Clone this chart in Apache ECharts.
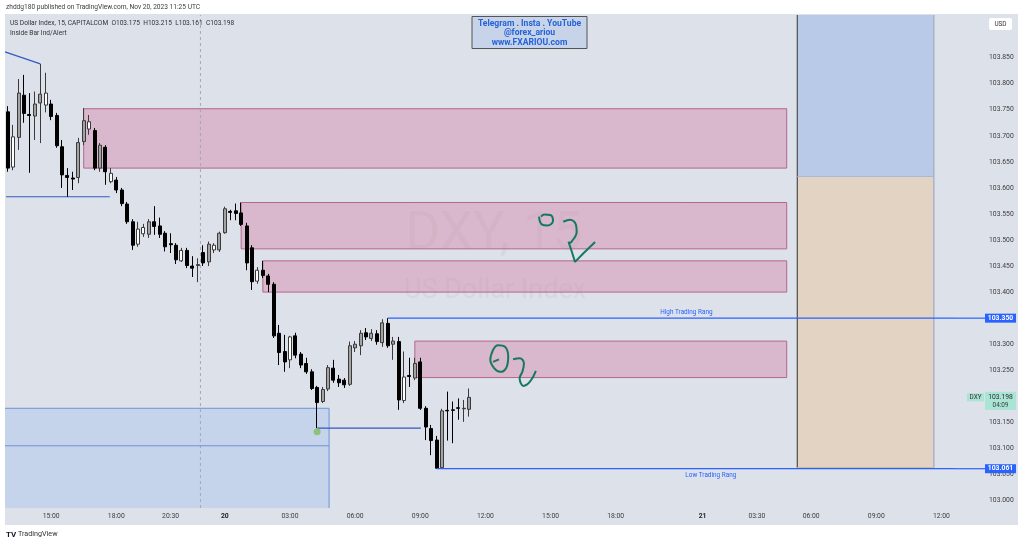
<!DOCTYPE html>
<html><head><meta charset="utf-8">
<script src="https://cdn.jsdelivr.net/npm/echarts@6/dist/echarts.min.js"></script>
<style>html,body{margin:0;padding:0;background:#fff}#c{width:1024px;height:544px}</style>
</head><body><div id="c"></div>
<script>
// ---------------- DATA ----------------
const symbolName = 'US Dollar Index';
const symbolInfo = '15, CAPITALCOM';
const indicatorName = 'Inside Bar Ind/Alert';
const publishLine = 'zhddg180 published on TradingView.com, Nov 20, 2023 11:25 UTC';
const promoLines = ['Telegram . Insta . YouTube', '@forex_ariou', 'www.FXARIOU.com'];
const watermark1 = 'DXY, 15';
const watermark2 = 'US Dollar Index';
const tickerTag = 'DXY';
const countdown = '04:09';
const currency = 'USD';

const slotCount = 175;
const timeLabelIdx = [8, 20, 30, 40, 52, 64, 76, 88, 100, 112, 128, 138, 148, 160, 172];
const timeLabels = ['15:00','18:00','20:30','20','03:00','06:00','09:00','12:00','15:00','18:00','21','03:30','06:00','09:00','12:00'];
const priceLabelMax = 103.85;

const opens = [103.746,103.640,103.697,103.778,103.741,103.738,103.763,103.759,103.761,103.739,
103.679,103.624,103.619,103.620,103.689,103.713,103.710,103.638,103.678,103.628,
103.615,103.596,103.569,103.535,103.492,103.512,103.511,103.535,103.527,103.513,
103.493,103.490,103.460,103.480,103.450,103.451,103.476,103.458,103.481,103.481,
103.514,103.555,103.556,103.552,103.527,103.485,103.421,103.442,103.431,103.415,
103.321,103.286,103.270,103.316,103.281,103.263,103.247,103.217,103.190,103.214,
103.254,103.233,103.231,103.223,103.293,103.297,103.322,103.311,103.320,103.303,
103.340,103.300,103.305,103.192,103.240,103.235,103.266,103.177,103.138,103.116,
103.063,103.173,103.174,103.178,103.176,103.175];
const closes = [103.638,103.698,103.782,103.743,103.739,103.761,103.780,103.782,103.737,103.681,
103.625,103.620,103.617,103.687,103.729,103.727,103.638,103.682,103.631,103.612,
103.596,103.570,103.535,103.490,103.521,103.524,103.535,103.526,103.511,103.487,
103.491,103.462,103.480,103.451,103.446,103.453,103.456,103.492,103.490,103.513,
103.560,103.553,103.551,103.530,103.456,103.420,103.442,103.432,103.415,103.316,
103.284,103.266,103.314,103.279,103.260,103.247,103.215,103.188,103.213,103.255,
103.231,103.226,103.222,103.297,103.300,103.321,103.314,103.321,103.305,103.341,
103.297,103.306,103.193,103.237,103.238,103.263,103.177,103.141,103.115,103.062,
103.172,103.172,103.173,103.177,103.177,103.198];
const lows = [103.631,103.634,103.673,103.725,103.629,103.692,103.686,103.745,103.730,103.677,
103.600,103.583,103.596,103.609,103.682,103.702,103.634,103.631,103.606,103.609,
103.590,103.565,103.531,103.481,103.487,103.506,103.504,103.510,103.504,103.478,
103.475,103.454,103.458,103.446,103.429,103.419,103.450,103.450,103.475,103.477,
103.512,103.538,103.538,103.527,103.442,103.404,103.416,103.427,103.400,103.312,
103.260,103.247,103.254,103.273,103.254,103.243,103.212,103.139,103.187,103.210,
103.226,103.218,103.216,103.220,103.285,103.279,103.308,103.306,103.299,103.295,
103.293,103.270,103.174,103.187,103.218,103.231,103.174,103.116,103.087,103.061,
103.062,103.115,103.110,103.155,103.151,103.161];
const highs = [103.757,103.721,103.809,103.817,103.782,103.785,103.838,103.821,103.769,103.744,
103.692,103.638,103.631,103.696,103.753,103.740,103.715,103.686,103.682,103.638,
103.621,103.600,103.573,103.540,103.535,103.531,103.540,103.565,103.543,103.517,
103.513,103.494,103.485,103.485,103.469,103.465,103.490,103.497,103.494,103.516,
103.564,103.558,103.570,103.572,103.533,103.490,103.448,103.460,103.435,103.419,
103.337,103.318,103.316,103.322,103.285,103.274,103.252,103.220,103.218,103.260,
103.270,103.241,103.235,103.305,103.306,103.327,103.331,103.329,103.327,103.348,
103.350,103.314,103.314,103.286,103.274,103.274,103.274,103.181,103.145,103.124,
103.176,103.209,103.190,103.196,103.193,103.215];
// candles flagged by the "Inside Bar Ind/Alert" indicator
const insideBars = [1, 7, 15, 19, 24, 25, 32, 38, 46, 52, 73];

// drawings (x in candle index units, y in price)
const zoneFrom = [14, 43, 47, 75];
const zoneTo = [143.5, 143.5, 143.5, 143.5];
const zoneLow = [103.638, 103.483, 103.400, 103.236];
const zoneHigh = [103.752, 103.572, 103.460, 103.306];

const trendLine = [[-0.5, 103.861], [6, 103.838]];
const supportLine = [[-0.3, 103.583], [18.8, 103.583]];
const wickLine = [[57, 103.139], [76.1, 103.139]];
const wickDot = [[57, 103.132]];
const sessionBreak = 35.5;

const demandLeft = -0.5, demandRight = 59.2, demandTop = 103.177, demandMid = 103.105;
const posLeft = 145.45, posRight = 170.6, posSplit = 103.622, posBottom = 103.063;

const rangeHigh = 103.350, rangeHighFrom = 70, rangeHighText = 'High Trading Rang';
const rangeLow = 103.061, rangeLowFrom = 79, rangeLowText = 'Low Trading Rang';

const strokesSmooth = [
  [[97.87,103.545],[98.37,103.530],[99.47,103.528],[100.45,103.537],[99.95,103.548],[98.84,103.549],[98.24,103.545]],
  [[102.34,103.535],[103.58,103.539],[104.68,103.529],[104.81,103.516],[103.89,103.497],[103.39,103.494]],
  [[89.4,103.289],[90.3,103.298],[91.6,103.295],[92.2,103.276],[91.8,103.254],[90.7,103.247],[89.6,103.254],[88.9,103.270],[89.4,103.289]],
  [[89.4,103.266],[90.5,103.271]],
  [[93.1,103.271],[94.3,103.273],[95.1,103.263],[94.8,103.247],[94.3,103.235],[95.0,103.220],[96.2,103.228],[97.3,103.249]]
];
const strokesSharp = [
  [[103.3,103.497],[103.9,103.478],[104.5,103.458],[106.1,103.475],[108.2,103.496]]
];

const Y_MIN = 102.9856, Y_MAX = 103.9319;

// ---------------- CHART ----------------
const FONT = 'Roboto';
const categories = Array.from({length: slotCount}, () => '');
timeLabelIdx.forEach((k, i) => categories[k] = timeLabels[i]);

const candleData = opens.map((o, i) => {
  const inside = insideBars.includes(i);
  const up = closes[i] >= o;
  const fill = inside ? '#ffffff' : (up ? '#a3a3a3' : '#000000');
  const border = (inside || up) ? '#3a3a3a' : '#000000';
  return {value: [o, closes[i], lows[i], highs[i]],
    itemStyle: {color: fill, color0: fill, borderColor: border, borderColor0: border, borderWidth: 1}};
});

const pinkStyle = {color: 'rgba(213,141,174,0.5)', borderColor: '#b5668e', borderWidth: 1};
const areaData = zoneFrom.map((f, i) => [
  {coord: [f, zoneHigh[i]], itemStyle: pinkStyle},
  {coord: [zoneTo[i], zoneLow[i]]}
]);
areaData.push([{coord: [demandLeft, demandTop], itemStyle: {color: '#c5d4eb', borderWidth: 0}}, {coord: [demandRight, Y_MIN]}]);
areaData.push([{coord: [posLeft, Y_MAX], itemStyle: {color: '#b8cae8', borderWidth: 0}}, {coord: [posRight, posSplit]}]);
areaData.push([{coord: [posLeft, posSplit], itemStyle: {color: '#e2d3c3', borderWidth: 0}}, {coord: [posRight, posBottom]}]);

function lineSeries(data, color, width, extra) {
  return Object.assign({type: 'line', xAxisIndex: 1, yAxisIndex: 0, data: data, symbol: 'none',
    silent: true, animation: false, z: 4, lineStyle: {color: color, width: width}}, extra || {});
}

const series = [
  lineSeries(supportLine, '#3557c0', 1.2, {z: 1, markArea: {silent: true, label: {show: false}, data: areaData}}),
  {type: 'candlestick', xAxisIndex: 0, yAxisIndex: 0, data: candleData, barWidth: 3.4, z: 3, silent: true, animation: false},
  lineSeries(trendLine, '#3557c0', 1.2),
  lineSeries(wickLine, '#3557c0', 1.2),
  lineSeries([[sessionBreak, Y_MIN], [sessionBreak, Y_MAX]], '#a3a8b4', 1, {z: 1, lineStyle: {color: '#a3a8b4', width: 1, type: [3, 3]}}),
  lineSeries([[demandLeft, demandTop], [demandRight, demandTop], [demandRight, Y_MIN]], '#6f92d8', 1, {z: 2}),
  lineSeries([[demandLeft, demandMid], [demandRight, demandMid]], '#6f92d8', 1, {z: 2}),
  lineSeries([[posLeft, Y_MAX], [posLeft, posBottom]], '#4d4d4d', 1.2, {z: 2}),
  lineSeries([[posRight, Y_MAX], [posRight, posBottom]], '#a9b4c8', 1.5, {z: 2}),
  lineSeries([[posLeft, posSplit], [posRight, posSplit]], '#a6b6d6', 1, {z: 2}),
  lineSeries([[posLeft, posBottom], [posRight, posBottom]], '#c9b39e', 1, {z: 2}),
  lineSeries([[rangeHighFrom, rangeHigh], [slotCount - 0.5, rangeHigh]], '#2962ff', 1.2),
  lineSeries([[rangeLowFrom, rangeLow], [slotCount - 0.5, rangeLow]], '#2962ff', 1.2),
  {type: 'scatter', xAxisIndex: 1, yAxisIndex: 0, data: wickDot, symbolSize: 7, z: 5, silent: true,
    itemStyle: {color: '#7bbf5a'}, animation: false}
];
strokesSmooth.forEach(s => series.push(lineSeries(s, '#157a5c', 2, {smooth: 0.4, z: 6})));
strokesSharp.forEach(s => series.push(lineSeries(s, '#157a5c', 2, {smooth: false, z: 6})));

const chart = echarts.init(document.getElementById('c'), null, {renderer: 'canvas'});

const promoStyle = {fontSize: 8.6, fontWeight: 'bold', fontFamily: FONT, fill: '#2563d9', textAlign: 'center', textVerticalAlign: 'middle'};
const staticGraphics = [
  {type: 'rect', shape: {x: 5, y: 14, width: 1013, height: 511}, style: {fill: '#dde1ea'}, z: -20, silent: true},
  {type: 'text', x: 494, y: 236, z: -5, silent: true, style: {text: watermark1, fontSize: 53, fontFamily: FONT, fill: 'rgba(90,96,115,0.07)', textAlign: 'center', textVerticalAlign: 'middle'}},
  {type: 'text', x: 495, y: 291, z: -5, silent: true, style: {text: watermark2, fontSize: 27, fontFamily: FONT, fill: 'rgba(90,96,115,0.07)', textAlign: 'center', textVerticalAlign: 'middle'}},
  {type: 'text', x: 6, y: 7, z: 50, style: {text: publishLine, fontSize: 6.6, fontFamily: FONT, fill: '#3b3b3b', textVerticalAlign: 'middle'}},
  {type: 'text', x: 10, y: 23, z: 50, style: {text: symbolName + ', ' + symbolInfo + '  O' + opens[opens.length-1].toFixed(3) + '  H' + highs[highs.length-1].toFixed(3) + '  L' + lows[lows.length-1].toFixed(3) + '  C' + closes[closes.length-1].toFixed(3), fontSize: 6.6, fontFamily: FONT, fill: '#333', textVerticalAlign: 'middle'}},
  {type: 'text', x: 10, y: 33.3, z: 50, style: {text: indicatorName, fontSize: 6.6, fontFamily: FONT, fill: '#333', textVerticalAlign: 'middle'}},
  {type: 'rect', shape: {x: 472, y: 16.5, width: 115, height: 32}, z: 50, style: {fill: '#c6d3e8', stroke: '#555', lineWidth: 1}},
  {type: 'text', x: 529.5, y: 23.5, z: 51, style: Object.assign({text: promoLines[0]}, promoStyle)},
  {type: 'text', x: 529.5, y: 33, z: 51, style: Object.assign({text: promoLines[1]}, promoStyle)},
  {type: 'text', x: 529.5, y: 42.5, z: 51, style: Object.assign({text: promoLines[2]}, promoStyle)},
  {type: 'rect', shape: {x: 989, y: 18, width: 23, height: 12, r: 2}, z: 50, style: {fill: '#ffffff'}},
  {type: 'text', x: 1000.5, y: 24, z: 51, style: {text: currency, fontSize: 6.4, fontFamily: FONT, fill: '#333', textAlign: 'center', textVerticalAlign: 'middle'}},
  {type: 'text', x: 6, y: 534.5, z: 50, style: {text: 'TV', fontSize: 8, fontWeight: 'bold', fontFamily: FONT, fill: '#131722', textVerticalAlign: 'middle'}},
  {type: 'text', x: 18, y: 534.5, z: 50, style: {text: 'TradingView', fontSize: 7.2, fontFamily: FONT, fill: '#333', textVerticalAlign: 'middle'}}
];

chart.setOption({
  animation: false,
  backgroundColor: '#ffffff',
  grid: {left: 5, right: 69, top: 15, bottom: 36, show: false},
  xAxis: [
    {type: 'category', data: categories, boundaryGap: true, gridIndex: 0,
      axisLine: {show: false}, axisTick: {show: false}, splitLine: {show: false},
      axisLabel: {interval: 0, margin: 5, fontSize: 6.8, fontFamily: FONT, color: '#3d3d3d', hideOverlap: false,
        formatter: v => v === '' ? '' : (v.indexOf(':') < 0 ? '{d|' + v + '}' : v),
        rich: {d: {fontSize: 6.8, fontWeight: 'bold', color: '#222', fontFamily: FONT}}}},
    {type: 'value', min: -0.5, max: slotCount - 0.5, show: false, gridIndex: 0}
  ],
  yAxis: [{type: 'value', position: 'right', min: Y_MIN, max: Y_MAX, splitNumber: 19, minInterval: 0.05, maxInterval: 0.05,
    axisLine: {show: false}, axisTick: {show: false}, splitLine: {show: false},
    axisLabel: {margin: 34, fontSize: 6.8, fontFamily: FONT, color: '#3d3d3d', showMinLabel: false, showMaxLabel: false,
      formatter: v => v > priceLabelMax + 1e-6 ? '' : v.toFixed(3)}}],
  graphic: {elements: staticGraphics},
  series: series
});

// price tags and texts placed through the chart's own scales
function px(x, y) { return chart.convertToPixel({seriesIndex: 0}, [x, y]); }
const dyn = [];
const tagX = 985, tagW = 31;
[[rangeHigh, rangeHighFrom, rangeHighText, -6], [rangeLow, rangeLowFrom, rangeLowText, 6.5]].forEach(([v, from, txt, dy]) => {
  const p0 = px(from, v), p1 = px(slotCount - 0.5, v);
  const y = p0[1];
  dyn.push({type: 'line', z: 40, shape: {x1: p1[0], y1: y, x2: tagX, y2: y}, style: {stroke: '#2962ff', lineWidth: 1.2}});
  dyn.push({type: 'rect', z: 41, shape: {x: tagX, y: y - 4.5, width: tagW, height: 9}, style: {fill: '#2962ff'}});
  dyn.push({type: 'text', z: 42, x: tagX + tagW / 2, y: y, style: {text: v.toFixed(3), fontSize: 6.8, fontWeight: 'bold', fontFamily: FONT, fill: '#fff', textAlign: 'center', textVerticalAlign: 'middle'}});
  dyn.push({type: 'text', z: 42, x: (p0[0] + tagX) / 2, y: y + dy, style: {text: txt, fontSize: 6.4, fontFamily: FONT, fill: '#2962ff', textAlign: 'center', textVerticalAlign: 'middle'}});
});
const lastClose = closes[closes.length - 1];
const yl = px(0, lastClose)[1];
dyn.push({type: 'rect', z: 41, shape: {x: 967, y: yl - 4, width: 17, height: 8}, style: {fill: '#a9e4d5'}});
dyn.push({type: 'text', z: 42, x: 975.5, y: yl, style: {text: tickerTag, fontSize: 6.4, fontFamily: FONT, fill: '#333', textAlign: 'center', textVerticalAlign: 'middle'}});
dyn.push({type: 'rect', z: 41, shape: {x: tagX, y: yl - 5.5, width: tagW, height: 18}, style: {fill: '#a9e4d5'}});
dyn.push({type: 'text', z: 42, x: tagX + tagW / 2, y: yl, style: {text: lastClose.toFixed(3), fontSize: 6.8, fontFamily: FONT, fill: '#2d2d2d', textAlign: 'center', textVerticalAlign: 'middle'}});
dyn.push({type: 'text', z: 42, x: tagX + tagW / 2, y: yl + 8, style: {text: countdown, fontSize: 6.4, fontFamily: FONT, fill: '#3d3d3d', textAlign: 'center', textVerticalAlign: 'middle'}});

chart.setOption({graphic: {elements: staticGraphics.concat(dyn)}});
</script>
</body></html>
